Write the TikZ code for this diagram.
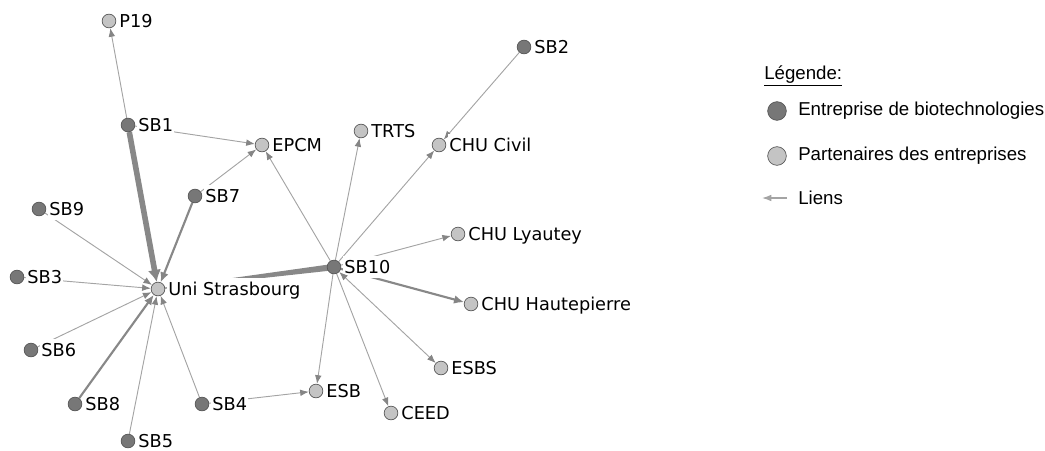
\documentclass[tikz,border=0pt]{standalone}
\usepackage{fontspec}
\setmainfont{DejaVu Sans}
\newfontfamily\legfont{Liberation Sans}
\usetikzlibrary{arrows.meta,calc,backgrounds}
\definecolor{darkn}{HTML}{777777}
\definecolor{lightn}{HTML}{C4C4C4}
\definecolor{nborder}{HTML}{555555}
\definecolor{edgec}{HTML}{A4A4A4}
\definecolor{edgeh}{HTML}{888888}
\definecolor{tipc}{HTML}{858585}
\begin{document}
\begin{tikzpicture}[x=0.75pt,y=-0.75pt,
  bio/.style={circle,draw=nborder,fill=darkn,line width=0.5pt,minimum size=10.3pt,inner sep=0pt},
  part/.style={circle,draw=nborder,fill=lightn,line width=0.5pt,minimum size=10.3pt,inner sep=0pt},
  lab/.style={anchor=west,fill=white,inner xsep=1pt,inner ysep=0pt,minimum height=17pt,
    text height=9.7pt,text depth=0pt,font=\fontsize{13.3pt}{15pt}\selectfont,xshift=1.2pt},
  lk/.style={draw=edgec,line width=0.7pt,-{Latex[length=6.5pt,width=5pt,color=tipc]}},
  lkb/.style={draw=edgec,line width=0.7pt,{Latex[length=6.5pt,width=5pt,color=tipc]}-{Latex[length=6.5pt,width=5pt,color=tipc]}},
  lkm/.style={draw=edgeh,line width=1.6pt,-{Latex[length=7.5pt,width=6.5pt,color=tipc]}},
  lkh/.style={draw=edgeh,line width=4.2pt,-{Latex[length=9pt,width=10pt,color=tipc]}},
  legtext/.style={anchor=west,font=\legfont\fontsize{14pt}{16pt}\selectfont,inner sep=0pt},
]
\useasboundingbox (0,0) rectangle (1045,450);

% nodes
\node[part] (P19) at (109,21) {};
\node[bio]  (SB1) at (128,125) {};
\node[part] (EPCM) at (262,145) {};
\node[bio]  (SB7) at (195,196) {};
\node[bio]  (SB9) at (39,209) {};
\node[part] (Uni) at (158,289) {};
\node[bio]  (SB3) at (17,277) {};
\node[bio]  (SB6) at (31,350) {};
\node[bio]  (SB8) at (75,404) {};
\node[bio]  (SB4) at (202,404) {};
\node[bio]  (SB5) at (128,441) {};
\node[part] (ESB) at (316,391) {};
\node[bio]  (SB10) at (334,267) {};
\node[part] (TRTS) at (361,131) {};
\node[part] (CHUC) at (439,145) {};
\node[bio]  (SB2) at (524,47) {};
\node[part] (CHUL) at (458,234) {};
\node[part] (CHUH) at (471,304) {};
\node[part] (ESBS) at (441,368) {};
\node[part] (CEED) at (391,413) {};

% edges
\begin{pgfonlayer}{background}
\draw[lk] (SB1) -- (P19);
\draw[lk] (SB1) -- (EPCM);
\draw[lk] (SB7) -- (EPCM);
\draw[lk] (SB10) -- (EPCM);
\draw[lk] (SB10) -- (TRTS);
\draw[lk] (SB10) -- (CHUC);
\draw[lk] (SB2) -- (CHUC);
\draw[lk] (SB10) -- (CHUL);
\draw[lkm] (SB10) -- (CHUH);
\draw[lk] (SB10) -- (CEED);
\draw[lk] (SB10) -- (ESB);
\draw[lk] (SB4) -- (ESB);
\draw[lkh] (SB1) -- (Uni);
\draw[lkm] (SB7) -- (Uni);
\draw[lkm] (SB8) -- (Uni);
\draw[lk] (SB9) -- (Uni);
\draw[lk] (SB3) -- (Uni);
\draw[lk] (SB6) -- (Uni);
\draw[lk] (SB5) -- (Uni);
\draw[lk] (SB4) -- (Uni);
\fill[edgeh] ($(SB10.center)!2.4pt!90:(Uni.center)$) -- ($(SB10.center)!2.4pt!-90:(Uni.center)$)
  -- ($(Uni.center)!0.4pt!90:(SB10.center)$) -- ($(Uni.center)!0.4pt!-90:(SB10.center)$) -- cycle;
\end{pgfonlayer}

% labels
\node[lab] (tP19) at (P19.east) {P19};
\node[lab] (tSB1) at (SB1.east) {SB1};
\node[lab] (tEPCM) at (EPCM.east) {EPCM};
\node[lab] (tSB7) at (SB7.east) {SB7};
\node[lab] (tSB9) at (SB9.east) {SB9};
\node[lab] (tUni) at (Uni.east) {Uni Strasbourg};
\node[lab] (tSB3) at (SB3.east) {SB3};
\node[lab] (tSB6) at (SB6.east) {SB6};
\node[lab] (tSB8) at (SB8.east) {SB8};
\node[lab] (tSB4) at (SB4.east) {SB4};
\node[lab] (tSB5) at (SB5.east) {SB5};
\node[lab] (tESB) at (ESB.east) {ESB};
\node[lab] (tSB10) at (SB10.east) {SB10};
\node[lab] (tTRTS) at (TRTS.east) {TRTS};
\node[lab] (tCHUC) at (CHUC.east) {CHU Civil};
\node[lab] (tSB2) at (SB2.east) {SB2};
\node[lab] (tCHUL) at (CHUL.east) {CHU Lyautey};
\node[lab] (tCHUH) at (CHUH.east) {CHU Hautepierre};
\node[lab] (tESBS) at (ESBS.east) {ESBS};
\node[lab] (tCEED) at (CEED.east) {CEED};

% two-way link drawn above the labels so both tips show
\draw[lkb] (SB10) -- (ESBS);

% legend
\node[legtext] (leg) at (764,76) {\underline{Légende:}};
\node[bio,minimum size=14pt] (lgBio) at (777,111) {};
\node[legtext] (lgBioT) at (798,111) {Entreprise de biotechnologies};
\node[part,minimum size=14pt] (lgPart) at (777,156) {};
\node[legtext] (lgPartT) at (798,156) {Partenaires des entreprises};
\coordinate (lgA1) at (787,198);
\coordinate (lgA2) at (762,198);
\draw[draw=edgec,line width=0.9pt,-{Latex[length=7pt,width=5pt,color=edgec]}] (lgA1) -- (lgA2);
\node[legtext] (lgLink) at (798,198) {Liens};
\end{tikzpicture}
\end{document}
